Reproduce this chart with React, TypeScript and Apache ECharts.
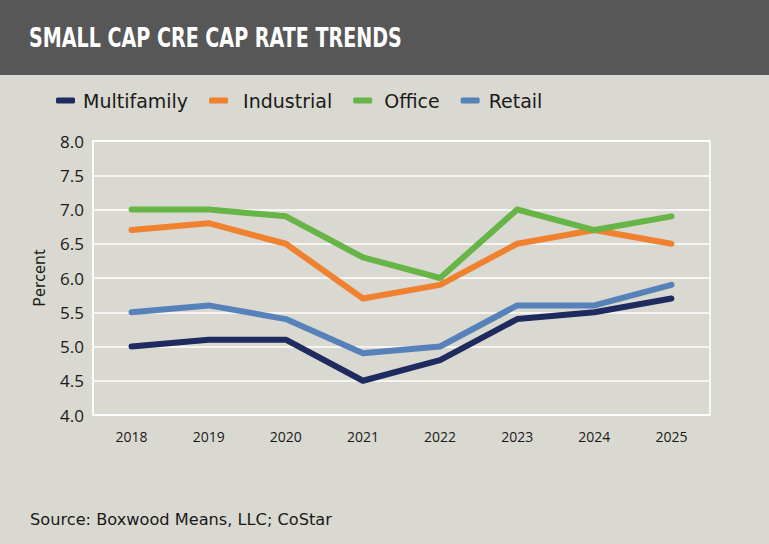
import React, { useEffect, useRef } from "react";
import * as echarts from "echarts";

const years = ["2018", "2019", "2020", "2021", "2022", "2023", "2024", "2025"];
const multifamily = [5.0, 5.1, 5.1, 4.5, 4.8, 5.4, 5.5, 5.7];
const industrial = [6.7, 6.8, 6.5, 5.7, 5.9, 6.5, 6.7, 6.5];
const office = [7.0, 7.0, 6.9, 6.3, 6.0, 7.0, 6.7, 6.9];
const retail = [5.5, 5.6, 5.4, 4.9, 5.0, 5.6, 5.6, 5.9];

const seriesNames = ["Multifamily", "Industrial", "Office", "Retail"];
const seriesData = [multifamily, industrial, office, retail];
const colors = ["#1f2a5e", "#f0812f", "#67b447", "#5682b9"];
const legendTextWidths = [109, 92, 58, 54];
const legendLeftPads = [3, 10, 7, 4];

export default function App() {
  const ref = useRef<HTMLDivElement>(null);
  useEffect(() => {
    if (!ref.current) return;
    const chart = echarts.init(ref.current, null, { renderer: "svg" });
    const legendFont = { fontSize: 19, color: "#1a1a1a", fontFamily: "'DejaVu Sans', sans-serif" };
    const rich: Record<string, any> = {};
    seriesNames.forEach((_, i) => {
      rich["w" + i] = { ...legendFont, width: legendTextWidths[i] };
    });
    chart.setOption({
      animation: false,
      backgroundColor: "#d9d8d1",
      graphic: [
        {
          type: "rect",
          shape: { x: 0, y: 0, width: 769, height: 75 },
          style: { fill: "#575757" },
        },
        {
          type: "text",
          x: 29,
          y: 38,
          scaleX: 0.735,
          style: {
            text: "SMALL CAP CRE CAP RATE TRENDS",
            fill: "#ffffff",
            font: "bold 26px 'DejaVu Sans', sans-serif",
            verticalAlign: "middle",
          },
        },
        {
          type: "text",
          x: 30,
          y: 519,
          style: {
            text: "Source: Boxwood Means, LLC; CoStar",
            fill: "#1a1a1a",
            font: "16.2px 'DejaVu Sans', sans-serif",
            verticalAlign: "middle",
          },
        },
      ],
      color: colors,
      legend: {
        left: 56,
        top: 91,
        padding: 0,
        icon: "roundRect",
        itemWidth: 19,
        itemHeight: 6,
        itemGap: 21,
        formatter: (name: string) => {
          const i = seriesNames.indexOf(name);
          return "{w" + i + "|" + name + "}";
        },
        textStyle: { ...legendFont, rich },
        data: seriesNames.map((name, i) => ({
          name,
          textStyle: { padding: [0, 0, 0, legendLeftPads[i]] },
        })),
      },
      grid: {
        left: 93,
        right: 59,
        top: 141,
        bottom: 129,
        show: true,
        borderColor: "#ffffff",
        borderWidth: 1.5,
      },
      xAxis: {
        type: "category",
        data: years,
        boundaryGap: true,
        axisLine: { show: false },
        axisTick: { show: false },
        axisLabel: {
          margin: 14,
          fontSize: 14,
          color: "#1a1a1a",
          fontFamily: "'Open Sans', sans-serif",
        },
      },
      yAxis: {
        type: "value",
        min: 4,
        max: 8,
        interval: 0.5,
        name: "Percent",
        nameLocation: "middle",
        nameGap: 46,
        nameTextStyle: { fontSize: 16, color: "#1a1a1a", fontFamily: "'Noto Sans', sans-serif" },
        axisLine: { show: true, lineStyle: { color: "#ffffff", width: 1.5 } },
        axisTick: { show: false },
        splitLine: { lineStyle: { color: "#ffffff", width: 1.5 } },
        axisLabel: {
          margin: 9,
          fontSize: 17,
          color: "#1a1a1a",
          fontFamily: "'Open Sans', sans-serif",
          formatter: (v: number) => v.toFixed(1),
        },
      },
      series: seriesNames.map((name, i) => ({
        name,
        type: "line",
        data: seriesData[i],
        showSymbol: false,
        symbol: "none",
        lineStyle: { width: 6, color: colors[i], cap: "round", join: "round" },
        itemStyle: { color: colors[i] },
      })),
    });
    return () => chart.dispose();
  }, []);
  return (
    <div
      ref={ref}
      style={{ position: "fixed", left: 0, top: 0, width: 769, height: 544 }}
    />
  );
}
